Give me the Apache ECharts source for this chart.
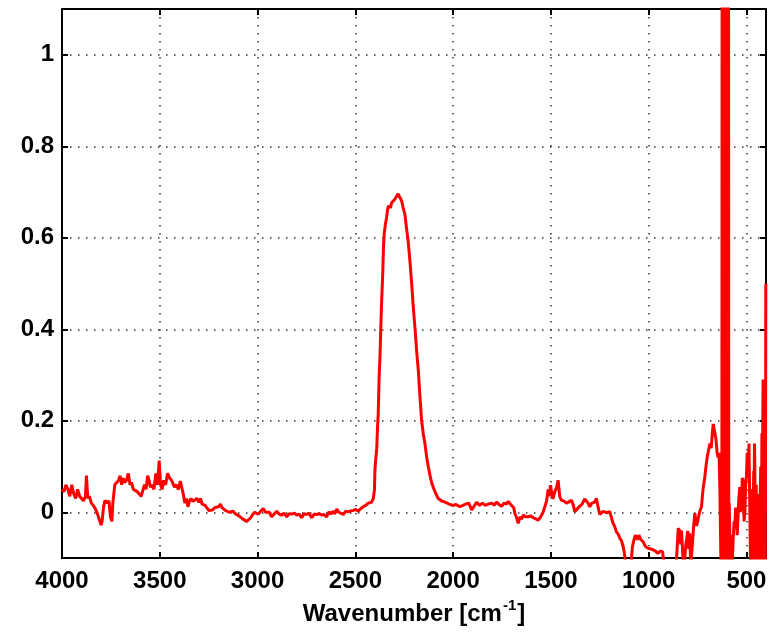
<!DOCTYPE html>
<html><head><meta charset="utf-8">
<script src="https://cdn.jsdelivr.net/npm/echarts@6/dist/echarts.min.js"></script>
<style>html,body{margin:0;padding:0;background:#fff}#c{width:776px;height:633px}</style>
</head><body><div id="c"></div><script>
// Wavenumber (cm^-1) and absorbance values, in segments
const wn1 = [4000,3990,3980,3970,3960,3950,3940,3930,3920,3910,
3900,3890,3880,3875,3868,3860,3850,3840,3830,3820,
3810,3800,3795,3788,3780,3770,3760,3752,3745,3740,
3730,3720,3710,3703,3695,3688,3680,3670,3661,3652,
3645,3635,3625,3615,3605,3595,3585,3578,3570,3562,
3555,3548,3540,3530,3520,3512,3503,3496,3488,3480,
3470,3460,3450,3440,3432,3425,3415,3405,3395,3388,
3380,3372,3364,3356,3348,3340,3330,3320,3310,3300,
3292,3284,3275,3268,3260,3250,3240,3230,3220,3210,
3200,3190,3182,3175,3165,3155,3145,3135,3125,3115,
3105,3095,3085,3075,3065,3055,3045,3035,3025,3015];
const ab1 = [0.05,0.045,0.06,0.05,0.035,0.06,0.04,0.03,0.05,0.035,
0.03,0.025,0.035,0.08,0.03,0.035,0.02,0.015,0.008,-0.002,
-0.015,-0.028,-0.02,0.01,0.026,0.02,0.025,-0.01,-0.02,0.02,
0.06,0.065,0.07,0.08,0.06,0.075,0.065,0.07,0.085,0.06,
0.065,0.05,0.05,0.045,0.04,0.035,0.05,0.06,0.05,0.08,
0.07,0.055,0.06,0.05,0.085,0.06,0.113,0.06,0.05,0.07,
0.06,0.085,0.075,0.07,0.072,0.055,0.06,0.05,0.068,0.065,
0.04,0.02,0.03,0.012,0.025,0.03,0.024,0.02,0.03,0.022,
0.03,0.018,0.022,0.015,0.01,0.004,0.008,0.005,0.01,0.006,
0.012,0.018,0.01,0.008,0.004,0.006,0.0,0.003,0.002,-0.003,
-0.005,-0.008,-0.01,-0.015,-0.017,-0.02,-0.022,-0.012,-0.005,0.0];

const wn2 = [3005,2996,2985,2971,2960,2950,2940,2928,2915,2902,
2890,2877,2865,2851,2838,2825,2812,2800,2787,2775,
2762,2750,2737,2723,2710,2698,2685,2672,2660,2647,
2635,2625,2615,2604,2595,2585,2575,2562,2550,2536,
2524,2511,2498,2485,2472,2460,2447,2434,2425,2417,
2408,2402];
const ab2 = [0.004,-0.004,0.002,0.008,0.0,-0.003,0.0,-0.01,-0.004,0.002,
-0.004,-0.006,-0.002,-0.01,-0.003,-0.004,-0.002,-0.006,-0.004,-0.012,
-0.003,-0.005,-0.002,-0.012,-0.004,-0.005,-0.003,-0.006,-0.005,-0.01,
0.001,-0.004,0.002,-0.003,0.007,0.0,-0.002,-0.005,0.002,0.001,
0.003,0.004,0.006,0.002,0.008,0.012,0.015,0.02,0.018,0.022,
0.03,0.05];

const wn3 = [2400,2395,2391,2387,2383,2378,2374,2370,2366,2360,
2356,2352,2346,2340,2334,2328,2320,2315,2305,2298,
2290,2281,2275,2268,2263,2255,2246,2238,2230,2220,
2212,2204,2195,2187,2178,2170,2161,2152,2144,2135,
2127,2118,2110,2102,2090,2076,2060,2042,2030,2016];
const ab3 = [0.09,0.12,0.135,0.18,0.215,0.3,0.34,0.4,0.455,0.52,
0.58,0.61,0.63,0.645,0.665,0.67,0.665,0.676,0.678,0.684,
0.69,0.696,0.69,0.685,0.68,0.665,0.65,0.62,0.593,0.545,
0.5,0.45,0.403,0.355,0.31,0.255,0.2,0.17,0.15,0.12,
0.1,0.08,0.065,0.055,0.042,0.03,0.025,0.022,0.02,0.017];

const wn4 = [2000,1985,1965,1950,1935,1920,1905,1897,1880,1865,
1850,1835,1820,1812,1800,1790,1778,1765,1752,1740,
1728,1718,1708,1701,1690,1684,1675,1667,1658,1650,
1641,1630,1616,1605,1595,1585,1575,1565,1555,1548,
1540,1531,1522,1514,1508,1502,1495,1489,1480,1470,
1463,1455,1446,1435,1420,1410,1395,1385,1378,1369,
1360,1352,1340,1327,1318,1310,1301,1290,1276,1267,
1258,1250,1241,1233,1225,1216,1207,1199,1190];
const ab4 = [0.015,0.017,0.012,0.015,0.018,0.02,0.005,0.008,0.022,0.015,
0.02,0.015,0.018,0.017,0.02,0.015,0.022,0.017,0.013,0.02,
0.018,0.024,0.018,0.015,0.01,-0.003,-0.012,-0.024,-0.01,-0.015,
-0.006,-0.01,-0.01,-0.008,-0.012,-0.013,-0.015,-0.017,-0.012,-0.01,
0.0,0.012,0.025,0.05,0.035,0.059,0.04,0.029,0.045,0.055,
0.07,0.035,0.026,0.025,0.02,0.024,0.026,0.015,0.001,0.002,
0.01,0.012,0.018,0.029,0.03,0.02,0.012,0.02,0.022,0.03,
0.01,-0.005,-0.003,0.002,0.001,-0.001,0.002,0.001,-0.003];

const wn5 = [1182,1173,1165,1156,1147,1139,1130,1124,1116,1105,
1092,1083,1075,1068,1063,1056,1050,1040,1029,1016,
1003,990,978,965,953,940,929,920,900,880,
862,857,852,849,842,836,832,827,823,815,
810,806,800,795,790,785,778,770,764,755,
747,740,730,722,713,707,701,694,687,680,
675,670,665,660,656,650,645,640,636,630];
const ab5 = [-0.024,-0.032,-0.043,-0.048,-0.057,-0.062,-0.076,-0.09,-0.12,-0.13,
-0.12,-0.075,-0.06,-0.05,-0.046,-0.06,-0.05,-0.06,-0.064,-0.075,
-0.079,-0.08,-0.082,-0.085,-0.09,-0.085,-0.086,-0.12,-0.13,-0.13,
-0.12,-0.1,-0.06,-0.035,-0.04,-0.07,-0.04,-0.08,-0.12,-0.1,
-0.07,-0.06,-0.041,-0.08,-0.046,-0.12,-0.08,-0.03,-0.002,-0.03,
-0.015,0.0,0.012,0.05,0.077,0.1,0.12,0.135,0.15,0.14,
0.17,0.193,0.19,0.17,0.16,0.13,0.12,0.13,0.05,-0.12];

// saturated band (off-scale oscillation)
const wn6 = [626,623,620,617,614,611,608,605,602,599,596,593,590,588];
const ab6 = [-0.5,3,-0.5,3,-0.5,3,-0.5,3,-0.5,3,-0.5,3,-0.5,0.02];

const wn7 = [585,582,578,574,568,563,559,555,551,547,
543,539,534,530,525,521,517,512,508,504,
500,496,491,487,483,479,475,471,468,466,
463,461,459,457,455,453,450,447,443,439,
435,431,427,424,421,418,415,411,408,404,
402,401];
const ab7 = [0.02,-0.12,-0.05,-0.13,-0.06,-0.02,-0.025,0.01,0.012,-0.05,
-0.048,0.03,0.055,0.0,0.03,0.075,0.07,-0.02,0.0,0.06,
0.08,0.13,0.1,0.15,0.15,-0.12,0.05,0.015,-0.13,-0.045,
0.09,0.02,0.15,0.1,-0.12,-0.05,0.06,-0.13,-0.05,0.04,
-0.13,0.0,0.1,-0.12,0.172,0.1,0.29,-0.13,0.13,-0.13,
0.2,0.5];

const xTicks = [4000,3500,3000,2500,2000,1500,1000,500];
const yTicks = [0,0.2,0.4,0.6,0.8,1];
const xName = '{main|Wavenumber [cm}{sup|-1}{main|]}';

const wn = [].concat(wn1,wn2,wn3,wn4,wn5,wn6,wn7);
const ab = [].concat(ab1,ab2,ab3,ab4,ab5,ab6,ab7);
const data = wn.map((w,i)=>[w, ab[i]]);

const font = '"Liberation Sans", Arial, Helvetica, sans-serif';
const gridLine = {show:true, lineStyle:{color:'#333', width:1.5, type:[1.5,6.5]}};
const tickStyle = {show:true, inside:true, length:6, lineStyle:{color:'#000', width:2}};
const lineStyle = {color:'#000', width:2};

const chart = echarts.init(document.getElementById('c'), null, {renderer:'canvas'});
chart.setOption({
  animation:false,
  backgroundColor:'#fff',
  grid:{left:62, right:10, top:9, bottom:75},
  xAxis:[{
    type:'value', position:'bottom', inverse:true, min:400, max:4000,
    axisLine:{show:true, onZero:false, lineStyle:lineStyle},
    axisTick:Object.assign({customValues:xTicks}, tickStyle),
    axisLabel:{customValues:xTicks, color:'#000', fontFamily:font, fontWeight:'bold', fontSize:24, margin:11,
      formatter:v=>String(v)},
    splitLine:gridLine,
    name:xName, nameLocation:'middle', nameGap:36,
    nameTextStyle:{color:'#000', fontFamily:font, fontWeight:'bold', fontSize:24,
      rich:{
        main:{fontFamily:font, fontWeight:'bold', fontSize:24, color:'#000', lineHeight:30, verticalAlign:'bottom'},
        sup:{fontFamily:font, fontWeight:'bold', fontSize:15, color:'#000', lineHeight:16, verticalAlign:'bottom', padding:[0,1,13,1]}
      }}
  },{
    type:'value', position:'top', inverse:true, min:400, max:4000,
    axisLine:{show:true, onZero:false, lineStyle:lineStyle},
    axisTick:Object.assign({customValues:xTicks}, tickStyle),
    axisLabel:{show:false}, splitLine:{show:false}
  }],
  yAxis:[{
    type:'value', position:'left', min:-0.1, max:1.1,
    axisLine:{show:true, onZero:false, lineStyle:lineStyle},
    axisTick:Object.assign({customValues:yTicks}, tickStyle),
    axisLabel:{customValues:yTicks, color:'#000', fontFamily:font, fontWeight:'bold', fontSize:24, margin:8,
      formatter:v=>String(Math.round(v*10)/10)},
    splitLine:gridLine
  },{
    type:'value', position:'right', min:-0.1, max:1.1,
    axisLine:{show:true, onZero:false, lineStyle:lineStyle},
    axisTick:Object.assign({customValues:yTicks}, tickStyle),
    axisLabel:{show:false}, splitLine:{show:false}
  }],
  series:[{
    type:'line', xAxisIndex:0, yAxisIndex:0, data:data,
    showSymbol:false, symbol:'none', clip:true,
    lineStyle:{color:'#ff0000', width:3}, z:3
  }]
});
</script></body></html>
